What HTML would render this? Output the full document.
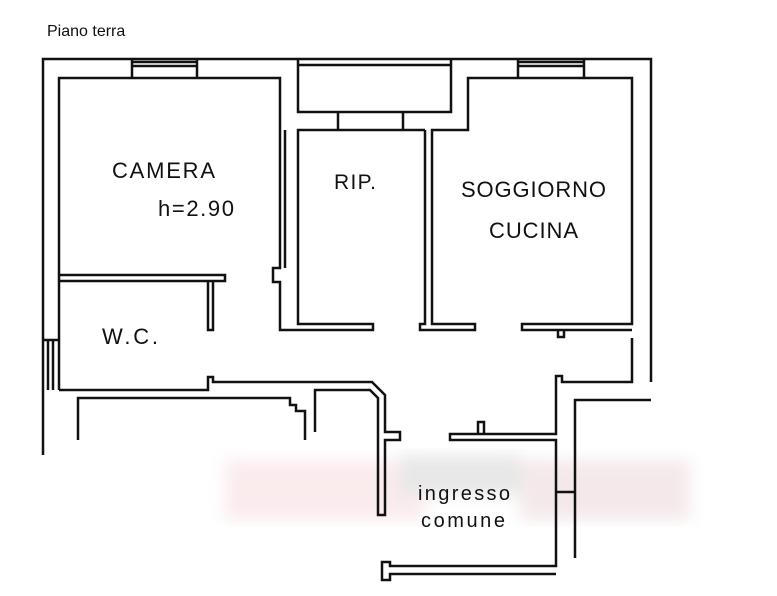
<!DOCTYPE html>
<html><head><meta charset="utf-8"><style>
html,body{margin:0;padding:0;background:#fff;}
svg{display:block}
text{font-family:"Liberation Sans",sans-serif;fill:#111}
</style></head><body>
<svg width="777" height="596" viewBox="0 0 777 596" xmlns="http://www.w3.org/2000/svg">
<defs><filter id="b"><feGaussianBlur stdDeviation="8"/></filter></defs>
<g filter="url(#b)" opacity="0.35">
<rect x="225" y="460" width="200" height="60" fill="#f2c8cc"/>
<rect x="400" y="455" width="120" height="40" fill="#bbb"/>
<rect x="520" y="460" width="170" height="60" fill="#e0c0c4"/>
</g>
<text x="47" y="36" font-size="16">Piano terra</text>
<g fill="none" stroke="#111" stroke-width="2.5">
<polyline points="43,455 43,59 651,59 651,382"/>
<line x1="132" y1="62" x2="197" y2="62"/><line x1="132" y1="66" x2="197" y2="66"/><line x1="132" y1="59" x2="132" y2="78"/><line x1="197" y1="59" x2="197" y2="78"/>
<line x1="518" y1="62" x2="584" y2="62"/><line x1="518" y1="66" x2="584" y2="66"/><line x1="518" y1="59" x2="518" y2="78"/><line x1="584" y1="59" x2="584" y2="78"/>
<polyline points="59,390 59,78 280,78 280,268 273,268 273,282 280,282 280,330 373,330 373,324 298,324 298,130 425,130"/>
<line x1="285" y1="130" x2="285" y2="268"/>
<polyline points="59,275 225,275 225,281 59,281"/>
<polyline points="208,281 208,330 213,330 213,281"/>
<polyline points="298,59 298,112 451,112 451,59"/>
<line x1="298" y1="65" x2="451" y2="65"/>
<line x1="338" y1="112" x2="338" y2="130"/><line x1="403" y1="112" x2="403" y2="130"/>
<polyline points="425,130 425,324 420,324 420,330 475,330 475,324 432,324 432,130 468,130 468,78 632,78 632,324 522,324 522,330 632,330"/>
<polyline points="558,330 558,337 564,337 564,330"/>
<polyline points="632,338 632,382 562,382 562,376 556,376 556,434 450,434 450,440 556,440 556,560"/>
<polyline points="478,434 478,422 484,422 484,434"/>
<polyline points="59,390 208,390 208,377 213,377 213,382 372,382 385,395 385,432 400,432 400,440 385,440 385,515 378,515 378,398 370,390 315,390 315,432"/>
<line x1="48" y1="340" x2="48" y2="390"/><line x1="53" y1="340" x2="53" y2="390"/><line x1="43" y1="340" x2="59" y2="340"/>
<polyline points="78,440 78,398 290,398 290,405 296,405 296,411 305,411 305,440"/>
<polyline points="575,558 575,400 651,400"/>
<line x1="556" y1="492" x2="575" y2="492"/>
<polyline points="556,560 556,566 390,566 390,562 382,562 382,580 390,580 390,574 556,574"/>
</g>
<text x="112" y="178" font-size="22" textLength="103">CAMERA</text>
<text x="158" y="216" font-size="22" textLength="76">h=2.90</text>
<text x="334" y="189" font-size="21" textLength="42">RIP.</text>
<text x="461" y="197" font-size="22" textLength="145">SOGGIORNO</text>
<text x="489" y="238" font-size="22" textLength="89">CUCINA</text>
<text x="102" y="344" font-size="22" textLength="56">W.C.</text>
<text x="418" y="500" font-size="20" textLength="92">ingresso</text>
<text x="421" y="527" font-size="20" textLength="84">comune</text>
</svg>
</body></html>
